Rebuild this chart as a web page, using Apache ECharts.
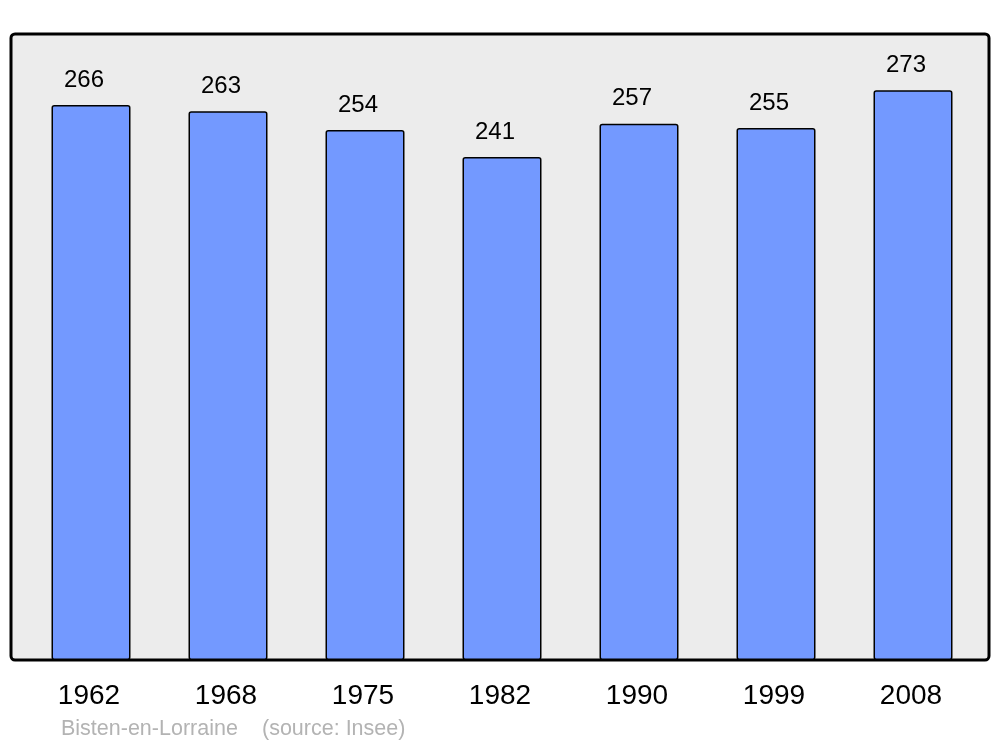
<!DOCTYPE html>
<html>
<head>
<meta charset="utf-8">
<script src="https://cdn.jsdelivr.net/npm/echarts@6/dist/echarts.min.js"></script>
<style>
  html, body { margin: 0; padding: 0; background: #fff; }
  #chart { width: 1000px; height: 747px; }
</style>
</head>
<body>
<div id="chart"></div>
<script>
const years = ['1962', '1968', '1975', '1982', '1990', '1999', '2008'];
const population = [266, 263, 254, 241, 257, 255, 273];
const townName = 'Bisten-en-Lorraine';
const sourceText = '(source: Insee)';

const chart = echarts.init(document.getElementById('chart'));
chart.setOption({
  animation: false,
  backgroundColor: '#ffffff',
  textStyle: { fontFamily: 'Liberation Sans, Arial, sans-serif' },
  grid: { left: 22.5, right: 18.5, top: 34, bottom: 87 },
  xAxis: {
    type: 'category',
    data: years,
    axisLine: { show: false },
    axisTick: { show: false },
    axisLabel: { color: '#000', fontSize: 28, margin: 22, padding: [0, 4, 0, 0] }
  },
  yAxis: {
    type: 'value',
    min: 0,
    max: 300,
    show: false
  },
  graphic: [
    {
      type: 'rect',
      z: -10,
      shape: { x: 11, y: 34, width: 978, height: 626, r: 4 },
      style: { fill: '#ececec', stroke: '#000', lineWidth: 3 }
    },
    {
      type: 'text',
      left: 61, top: 718,
      style: { text: townName, fill: '#b3b3b3', fontSize: 21.5, fontFamily: 'Liberation Sans, Arial, sans-serif' }
    },
    {
      type: 'text',
      left: 262, top: 718,
      style: { text: sourceText, fill: '#b3b3b3', fontSize: 21.5, fontFamily: 'Liberation Sans, Arial, sans-serif' }
    }
  ],
  series: [{
    type: 'bar',
    data: population,
    barWidth: 79,
    itemStyle: {
      color: '#7399ff',
      borderColor: '#000',
      borderWidth: 1.5,
      borderRadius: 2
    },
    label: {
      show: true,
      position: 'top',
      distance: 13,
      offset: [-7, 0],
      color: '#000',
      fontSize: 24
    }
  }]
});
</script>
</body>
</html>
